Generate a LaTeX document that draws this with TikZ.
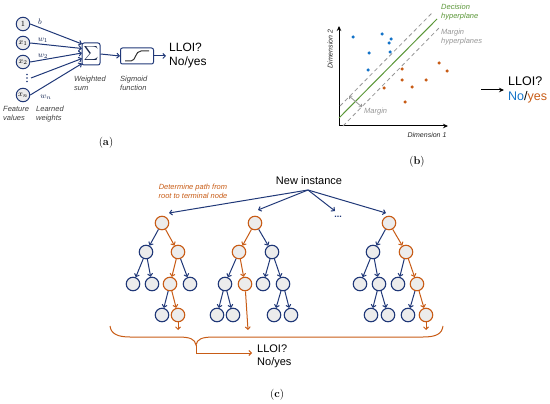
\documentclass[tikz,border=0pt]{standalone}
\usepackage{fontspec}
\setsansfont{Liberation Sans}
\usetikzlibrary{arrows.meta}
\definecolor{navy}{RGB}{32,56,120}
\definecolor{org}{RGB}{200,92,22}
\definecolor{dotblue}{RGB}{20,115,200}
\definecolor{grn}{RGB}{90,150,55}
\definecolor{lgray}{RGB}{150,150,150}
\definecolor{cfill}{RGB}{236,236,236}
\begin{document}
\begin{tikzpicture}[x=1pt,y=-1pt,
  inp/.style={circle,draw=navy,line width=1pt,fill=cfill,minimum size=13.5pt,inner sep=0pt,font=\footnotesize},
  tn/.style={circle,draw=navy,line width=1.1pt,fill=cfill,minimum size=13.5pt,inner sep=0pt},
  on/.style={tn,draw=org},
  narr/.style={draw=navy,line width=1pt,-{Straight Barb[length=2.5pt,width=5pt]}},
  oarr/.style={draw=org,line width=1pt,-{Straight Barb[length=2.5pt,width=5pt]}},
  lab/.style={font=\sffamily\itshape\fontsize{7.5}{9}\selectfont,text=black!75,align=left,inner sep=0pt},
  glab/.style={font=\sffamily\itshape\fontsize{7.5}{9}\selectfont,text=lgray,align=left,inner sep=0pt},
  big/.style={font=\sffamily\fontsize{12}{14}\selectfont,align=left,inner sep=0pt},
  captxt/.style={font=\rmfamily\fontsize{11}{13}\selectfont,inner sep=0pt},
  dotb/.style={circle,fill=dotblue,inner sep=0pt,minimum size=3.5pt},
  doto/.style={circle,fill=org,inner sep=0pt,minimum size=3.5pt},
  vdot/.style={circle,fill=navy,inner sep=0pt,minimum size=1.8pt}]
\useasboundingbox (0,0) rectangle (550,404);

% ---------- (a) ----------
\node[inp] (in1) at (23,24) {$1$};
\node[inp] (inx1) at (23,43) {$x_1$};
\node[inp] (inx2) at (23,62) {$x_2$};
\node[vdot] (vd1) at (27,74.5) {};
\node[vdot] (vd2) at (27,78) {};
\node[vdot] (vd3) at (27,81.5) {};
\node[inp] (inxn) at (23,95) {$x_n$};
\node[draw=navy,line width=1pt,rounded corners=2pt,minimum width=18pt,minimum height=22pt,inner sep=0pt] (sum) at (91,54) {\color{navy!60!black}$\displaystyle\sum$};
\coordinate (s1) at (82,44);
\coordinate (s2) at (82,48.5);
\coordinate (s3) at (82,53);
\coordinate (s4) at (82,58.5);
\coordinate (s5) at (82,63.5);
\coordinate (dsrc) at (31,78);
\draw[narr] (in1.east) -- (s1);
\draw[narr] (inx1.east) -- (s2);
\draw[narr] (inx2.east) -- (s3);
\draw[narr] (dsrc) -- (s4);
\draw[narr] (inxn.east) -- (s5);
\node[text=navy!70!black,inner sep=0pt] (lb) at (40,22) {\footnotesize$b$};
\node[text=navy!70!black,inner sep=0pt] (lw1) at (43,40) {\footnotesize$w_1$};
\node[text=navy!70!black,inner sep=0pt] (lw2) at (43,56) {\footnotesize$w_2$};
\node[text=navy!70!black,inner sep=0pt] (lwn) at (46,97) {\footnotesize$w_n$};
\node[draw=navy,line width=1pt,rounded corners=2pt,minimum width=33pt,minimum height=16pt,inner sep=0pt] (sig) at (137,56) {};
\draw[line width=1pt,black!80] (125,61) -- (131,61) .. controls (136,61) and (135,51) .. (141,51) -- (149,51);
\coordinate (aout) at (166,56);
\draw[narr] (sum.east) -- (sig.west);
\draw[narr] (sig.east) -- (aout);
\node[big,anchor=west] (ares) at (169,56) {LLOI?\\No/yes};
\node[lab,anchor=north west] (lws) at (74,76) {Weighted\\sum};
\node[lab,anchor=north west] (lsf) at (120,76) {Sigmoid\\function};
\node[lab,anchor=north west] (lfv) at (3,106) {Feature\\values};
\node[lab,anchor=north west] (llw) at (36,106) {Learned\\weights};
\node[captxt] (capa) at (106,143) {(\textbf{a})};

% ---------- (b) ----------
\coordinate (org0) at (339,126);
\coordinate (ytop) at (339,26);
\coordinate (xend) at (448,126);
\draw[line width=1pt,-{Stealth[length=5pt,width=4.5pt]}] (org0) -- (ytop);
\draw[line width=1pt,-{Stealth[length=5pt,width=4.5pt]}] (org0) -- (xend);
\coordinate (g1) at (339,118); \coordinate (g2) at (437,19);
\coordinate (u1) at (340,106); \coordinate (u2) at (433,12);
\coordinate (d1) at (343,126); \coordinate (d2) at (440,27);
\draw[grn,line width=1pt] (g1) -- (g2);
\draw[lgray,line width=0.8pt,dash pattern=on 4pt off 3pt] (u1) -- (u2);
\draw[lgray,line width=0.8pt,dash pattern=on 4pt off 3pt] (d1) -- (d2);
\coordinate (m1) at (349,96); \coordinate (m2) at (362,107);
\draw[lgray,line width=0.8pt,{Straight Barb[length=2pt,width=4pt]}-{Straight Barb[length=2pt,width=4pt]}] (m1) -- (m2);
\node[glab,anchor=west] (lmar) at (364,112) {Margin};
\node[glab,anchor=north west,text=grn] (ldec) at (441,4) {Decision\\hyperplane};
\node[glab,anchor=north west] (lmh) at (441,29) {Margin\\hyperplanes};
\node[lab,rotate=90,font=\sffamily\itshape\fontsize{7}{8}\selectfont,text=black!85] (ld2) at (330,49) {Dimension 2};
\node[lab,font=\sffamily\itshape\fontsize{7}{8}\selectfont,text=black!85] (ld1) at (427,135) {Dimension 1};
\foreach \p [count=\i] in {(353,37),(382,34),(391,39),(389,43),(369,53),(390,52),(368,70)}
  \node[dotb] (bd\i) at \p {};
\foreach \p [count=\i] in {(439,63),(447,71),(402,69),(402,80),(426,80),(412,87),(384,88),(405,102)}
  \node[doto] (od\i) at \p {};
\coordinate (b1) at (481,90); \coordinate (b2) at (504,90);
\draw[line width=1pt,-{Stealth[length=5pt,width=4.5pt]}] (b1) -- (b2);
\node[big,anchor=west,font=\sffamily\fontsize{12.5}{15}\selectfont] (bres) at (508,90) {LLOI?\\\textcolor{dotblue}{No}/\textcolor{org}{yes}};
\node[captxt] (capb) at (417,162) {(\textbf{b})};

% ---------- (c) ----------
\node[font=\sffamily\fontsize{11}{13}\selectfont,inner sep=0pt] (ni) at (309,181) {New instance};
\coordinate (nis) at (308,190);
\node[text=navy,inner sep=0pt,font=\sffamily\bfseries\small] (cdots) at (338,217) {...};
\node[lab,text=org,align=center] (ldet) at (193,191) {Determine path from\\root to terminal node};

% tree 1
\node[on] (t1r) at (162,223) {};
\node[tn] (t1a) at (146,252) {}; \node[on] (t1b) at (178,252) {};
\node[tn] (t1c) at (133,284) {}; \node[tn] (t1d) at (152,284) {};
\node[on] (t1e) at (170,284) {}; \node[tn] (t1f) at (190,284) {};
\node[tn] (t1g) at (162,315) {}; \node[on] (t1h) at (178,315) {};
\coordinate (t1o) at (178,330);
\draw[narr] (t1r) -- (t1a); \draw[oarr] (t1r) -- (t1b);
\draw[narr] (t1a) -- (t1c); \draw[narr] (t1a) -- (t1d);
\draw[oarr] (t1b) -- (t1e); \draw[narr] (t1b) -- (t1f);
\draw[narr] (t1e) -- (t1g); \draw[oarr] (t1e) -- (t1h);
\draw[oarr] (t1h) -- (t1o);

% tree 2
\node[on] (t2r) at (255,223) {};
\node[on] (t2a) at (239,252) {}; \node[tn] (t2b) at (272,252) {};
\node[tn] (t2c) at (225,284) {}; \node[on] (t2d) at (245,284) {};
\node[tn] (t2e) at (263,284) {}; \node[tn] (t2f) at (283,284) {};
\node[tn] (t2g) at (217,315) {}; \node[tn] (t2h) at (233,315) {};
\node[tn] (t2i) at (274,315) {}; \node[tn] (t2j) at (291,315) {};
\coordinate (t2o) at (248,330);
\draw[oarr] (t2r) -- (t2a); \draw[narr] (t2r) -- (t2b);
\draw[narr] (t2a) -- (t2c); \draw[oarr] (t2a) -- (t2d);
\draw[narr] (t2b) -- (t2e); \draw[narr] (t2b) -- (t2f);
\draw[narr] (t2c) -- (t2g); \draw[narr] (t2c) -- (t2h);
\draw[narr] (t2f) -- (t2i); \draw[narr] (t2f) -- (t2j);
\draw[oarr] (t2d) -- (t2o);

% tree 3
\node[on] (t3r) at (389,223) {};
\node[tn] (t3a) at (373,252) {}; \node[on] (t3b) at (406,252) {};
\node[tn] (t3c) at (360,284) {}; \node[tn] (t3d) at (379,284) {};
\node[tn] (t3e) at (398,284) {}; \node[on] (t3f) at (417,284) {};
\node[tn] (t3g) at (371,315) {}; \node[tn] (t3h) at (388,315) {};
\node[tn] (t3i) at (408,315) {}; \node[on] (t3j) at (426,315) {};
\coordinate (t3o) at (426,330);
\draw[narr] (t3r) -- (t3a); \draw[oarr] (t3r) -- (t3b);
\draw[narr] (t3a) -- (t3c); \draw[narr] (t3a) -- (t3d);
\draw[narr] (t3b) -- (t3e); \draw[oarr] (t3b) -- (t3f);
\draw[narr] (t3d) -- (t3g); \draw[narr] (t3d) -- (t3h);
\draw[narr] (t3f) -- (t3i); \draw[oarr] (t3f) -- (t3j);
\draw[oarr] (t3j) -- (t3o);

% arrows from new instance
\coordinate (e1) at (169,213);
\coordinate (e2) at (258,210);
\coordinate (e3) at (335,211);
\coordinate (e4) at (386,213);
\draw[narr] (nis) -- (e1);
\draw[narr] (nis) -- (e2);
\draw[narr] (nis) -- (e3);
\draw[narr] (nis) -- (e4);

% brace
\coordinate (brl) at (110,326);
\coordinate (brtip) at (196,345);
\coordinate (brr) at (443,326);
\draw[org,line width=1pt] (brl) .. controls (111,334) and (118,337) .. (130,337) -- (178,337) .. controls (190,337) and (195,339) .. (brtip)
  .. controls (197,339) and (202,337) .. (214,337) -- (423,337) .. controls (436,337) and (442,334) .. (brr);
\coordinate (brc) at (196,353);
\coordinate (bra) at (252,353);
\draw[oarr] (brtip) -- (brc) -- (bra);
\node[big,anchor=west,font=\sffamily\fontsize{11}{13}\selectfont] (cres) at (257,356) {LLOI?\\No/yes};
\node[captxt] (capc) at (277,395) {(\textbf{c})};
\end{tikzpicture}
\end{document}
